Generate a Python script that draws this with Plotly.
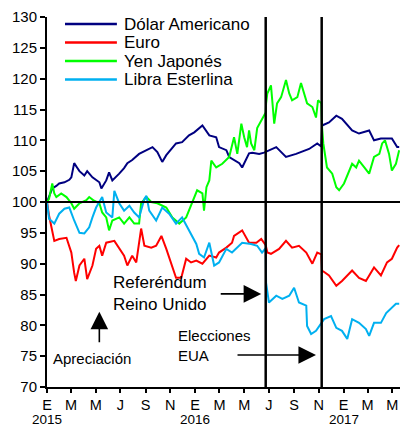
import plotly.graph_objects as go

# ---------------- data ----------------
usd_dates = ["2015-01-01","2015-01-06","2015-01-14","2015-01-24","2015-01-31","2015-02-13","2015-02-25","2015-03-02",
             "2015-03-09","2015-03-16","2015-03-22","2015-04-03","2015-04-10","2015-04-23","2015-05-02","2015-05-10",
             "2015-05-15","2015-05-27","2015-06-03","2015-06-11","2015-06-28","2015-07-10","2015-07-18","2015-07-30",
             "2015-08-16","2015-09-03","2015-09-18","2015-09-30","2015-10-12","2015-10-22","2015-11-15","2015-11-30",
             "2015-12-17","2015-12-30","2016-01-11","2016-01-19","2016-02-05","2016-02-22","2016-02-29","2016-03-18",
             "2016-03-25","2016-04-19","2016-04-26","2016-05-13","2016-05-21","2016-06-07","2016-06-19","2016-07-19",
             "2016-08-12","2016-09-06","2016-10-08","2016-10-28","2016-11-07","2016-11-09","2016-11-26","2016-12-14",
             "2016-12-28","2017-01-22","2017-02-08","2017-03-05","2017-03-17","2017-04-03","2017-04-30","2017-05-13",
             "2017-05-18"]
usd_values = [100.0,100.8,102.2,102.6,103.0,103.2,103.6,104.0,
              106.3,105.6,105.0,104.3,105.0,104.0,103.5,103.2,
              102.2,103.5,104.8,103.5,104.6,105.5,106.3,106.8,
              107.8,108.4,108.9,108.1,106.5,107.6,109.5,109.7,
              110.8,111.3,112.0,112.4,110.8,110.5,108.9,108.4,
              107.3,106.3,105.6,107.9,108.0,107.8,108.0,108.9,
              107.3,107.8,108.6,109.5,109.0,112.4,112.9,114.0,
              113.5,111.6,111.1,111.6,110.0,110.3,110.3,108.9,
              108.9]

eur_dates = ["2015-01-01","2015-01-06","2015-01-19","2015-01-31","2015-02-18","2015-03-02","2015-03-09","2015-03-13",
             "2015-03-22","2015-04-03","2015-04-10","2015-04-23","2015-05-02","2015-05-10","2015-05-17","2015-05-27",
             "2015-06-16","2015-06-28","2015-07-10","2015-07-18","2015-07-30","2015-08-09","2015-08-21","2015-08-29",
             "2015-09-15","2015-09-27","2015-10-10","2015-10-22","2015-11-03","2015-11-15","2015-11-28","2015-12-10",
             "2015-12-22","2016-01-04","2016-01-19","2016-02-05","2016-02-22","2016-02-29","2016-03-18","2016-04-01",
             "2016-04-06","2016-04-26","2016-05-13","2016-05-31","2016-06-12","2016-06-23","2016-06-27","2016-07-06",
             "2016-07-26","2016-08-12","2016-08-27","2016-09-13","2016-10-01","2016-10-16","2016-10-28","2016-11-07",
             "2016-11-09","2016-11-26","2016-12-14","2016-12-28","2017-01-22","2017-02-08","2017-02-25","2017-03-17",
             "2017-04-03","2017-04-18","2017-04-30","2017-05-13","2017-05-18"]
eur_values = [100.0,97.8,93.7,94.0,94.2,91.8,88.5,87.2,
              89.7,90.8,87.5,89.7,92.4,92.9,91.3,93.4,
              93.7,92.4,91.3,89.7,91.3,90.2,95.7,92.9,
              92.6,92.9,94.5,92.4,90.2,87.7,87.7,90.8,
              90.2,90.5,90.0,91.3,91.0,91.8,92.6,93.4,
              94.5,95.4,93.4,93.4,94.0,93.0,91.8,91.6,
              92.4,93.7,92.6,92.9,91.8,90.0,91.8,91.5,
              88.9,88.1,86.4,87.2,88.9,87.7,87.2,89.4,
              88.1,90.2,90.8,92.6,93.0]

jpy_dates = ["2015-01-01","2015-01-06","2015-01-14","2015-01-19","2015-01-24","2015-02-05","2015-02-18","2015-03-02",
             "2015-03-09","2015-03-22","2015-04-08","2015-04-15","2015-04-27","2015-05-10","2015-05-17","2015-05-27",
             "2015-06-03","2015-06-11","2015-06-28","2015-07-10","2015-07-23","2015-08-04","2015-08-16","2015-08-21",
             "2015-09-03","2015-09-15","2015-09-30","2015-10-22","2015-11-06","2015-11-23","2015-12-10","2015-12-25",
             "2016-01-06","2016-01-19","2016-01-23","2016-01-29","2016-02-05","2016-02-10","2016-02-22","2016-03-08",
             "2016-03-25","2016-04-06","2016-04-14","2016-04-24","2016-05-01","2016-05-08","2016-05-13","2016-05-18",
             "2016-05-26","2016-06-02","2016-06-12","2016-06-23","2016-06-24","2016-06-27","2016-07-06","2016-07-14",
             "2016-07-21","2016-07-31","2016-08-12","2016-08-20","2016-08-27","2016-09-09","2016-09-18","2016-09-26",
             "2016-10-03","2016-10-16","2016-10-25","2016-10-30","2016-11-07","2016-11-09","2016-11-12","2016-11-21",
             "2016-12-04","2016-12-14","2016-12-21","2017-01-02","2017-01-15","2017-01-22","2017-02-01","2017-02-08",
             "2017-02-21","2017-03-05","2017-03-17","2017-03-30","2017-04-06","2017-04-13","2017-04-23","2017-04-30",
             "2017-05-10","2017-05-18"]
jpy_values = [100.0,100.5,103.0,101.4,100.8,101.4,100.8,99.8,
              98.9,99.8,100.3,100.8,100.2,99.8,98.3,97.5,
              95.4,97.0,97.5,96.5,97.5,96.5,96.5,99.8,
              100.8,100.0,99.8,99.1,97.5,96.5,97.5,99.8,
              101.9,101.4,98.6,102.4,103.5,106.7,105.6,106.2,
              107.3,110.5,107.8,112.7,110.5,108.9,111.6,109.5,
              108.4,112.0,113.2,114.5,116.0,117.6,118.9,112.7,
              116.0,117.0,119.8,117.6,116.5,117.0,119.3,117.6,
              116.0,115.4,113.7,116.5,116.0,112.0,109.5,105.6,
              104.6,102.4,101.9,103.0,105.1,106.2,105.6,106.7,
              105.6,104.6,107.3,107.8,109.5,110.0,107.8,105.1,
              106.2,108.4]

gbp_dates = ["2015-01-01","2015-01-06","2015-01-19","2015-01-31","2015-02-13","2015-02-25","2015-03-09","2015-03-22",
             "2015-04-03","2015-04-15","2015-04-23","2015-05-02","2015-05-17","2015-05-27","2015-06-11","2015-06-16",
             "2015-06-28","2015-07-10","2015-07-23","2015-08-04","2015-08-16","2015-08-29","2015-09-03","2015-09-10",
             "2015-09-27","2015-10-12","2015-10-29","2015-11-15","2015-11-30","2015-12-17","2016-01-04","2016-01-11",
             "2016-01-23","2016-02-05","2016-02-17","2016-02-29","2016-03-18","2016-04-01","2016-04-26","2016-05-18",
             "2016-06-02","2016-06-14","2016-06-23","2016-06-24","2016-07-01","2016-07-19","2016-08-03","2016-08-20",
             "2016-09-01","2016-09-13","2016-10-01","2016-10-03","2016-10-13","2016-10-25","2016-11-02","2016-11-14",
             "2016-12-01","2016-12-14","2016-12-28","2017-01-10","2017-01-22","2017-02-08","2017-02-25","2017-03-05",
             "2017-03-17","2017-04-03","2017-04-16","2017-04-28","2017-05-10","2017-05-18"]
gbp_values = [100.0,97.3,96.5,98.1,98.9,99.1,97.0,95.0,
              94.9,95.9,97.5,99.1,100.8,98.3,97.5,101.8,
              99.8,98.6,99.4,98.3,97.5,100.5,101.0,98.6,
              97.0,99.1,98.1,96.5,97.5,95.4,93.2,91.6,
              91.0,93.4,89.7,90.2,92.4,91.8,93.4,93.2,
              92.9,91.8,92.5,86.9,83.7,84.8,84.3,84.8,
              86.1,83.7,83.2,79.9,78.6,79.1,79.9,81.0,
              81.5,79.6,79.1,77.8,81.0,80.4,79.4,78.3,
              80.4,80.4,82.0,82.8,83.5,83.5]

series_names = ["Dólar Americano", "Euro", "Yen Japonés", "Libra Esterlina"]
series_colors = ["#000080", "#FF0000", "#00FF00", "#00B0F0"]

tick_dates = ["2015-01-01","2015-03-01","2015-05-01","2015-07-01","2015-09-01","2015-11-01",
              "2016-01-01","2016-03-01","2016-05-01","2016-07-01","2016-09-01","2016-11-01",
              "2017-01-01","2017-03-01","2017-05-01"]
tick_labels = ["E","M","M","J","S","N",
               "E","M","M","J","S","N",
               "E","M","M"]
year_dates = ["2015-01-01", "2016-01-01", "2017-01-01"]
year_labels = ["2015", "2016", "2017"]
y_ticks = [70, 75, 80, 85, 90, 95, 100, 105, 110, 115, 120, 125, 130]

event_dates = ["2016-06-23", "2016-11-08"]
baseline = 100

FONT = "Liberation Sans, Arial, sans-serif"

fig = go.Figure()
for name, xs, ys, col in zip(series_names,
                             [usd_dates, eur_dates, jpy_dates, gbp_dates],
                             [usd_values, eur_values, jpy_values, gbp_values],
                             series_colors):
    fig.add_trace(go.Scatter(x=xs, y=ys, mode="lines", name=name,
                             line=dict(color=col, width=2)))

# horizontal line at 100
fig.add_shape(type="line", xref="paper", x0=0, x1=1, yref="y", y0=baseline, y1=baseline,
              line=dict(color="black", width=2))
# vertical event lines
for d in event_dates:
    fig.add_shape(type="line", xref="x", x0=d, x1=d, yref="y", y0=70, y1=130,
                  line=dict(color="black", width=2.5))

# legend (key lines + labels inside the plot, top-left)
leg_y = [0.981, 0.931, 0.881, 0.831]
for name, col, yy in zip(series_names, series_colors, leg_y):
    fig.add_shape(type="line", xref="paper", yref="paper", x0=0.051, x1=0.198, y0=yy, y1=yy,
                  line=dict(color=col, width=2.5))
    fig.add_annotation(x=0.2125, y=yy, xref="paper", yref="paper", text=name, showarrow=False,
                       xanchor="left", yanchor="middle",
                       font=dict(family=FONT, size=17, color="black"))

# year labels under the January ticks
for d, lab in zip(year_dates, year_labels):
    fig.add_annotation(x=d, y=-41 / 370, xref="x", yref="paper", text=lab, showarrow=False,
                       xanchor="center", yanchor="bottom", borderpad=0,
                       font=dict(family=FONT, size=13.5, color="black"))

# annotations
fig.add_annotation(x="2015-06-08", y=85.1, xref="x", yref="y", text="Referéndum<br>Reino Unido",
                   showarrow=False, xanchor="left", yanchor="middle", align="left",
                   font=dict(family=FONT, size=17, color="black"))
fig.add_annotation(x="2016-06-12", y=85.1, xref="x", yref="y", ax=-42, ay=0, text="",
                   showarrow=True, arrowhead=2, arrowsize=2.2, arrowwidth=1.6, arrowcolor="black")
fig.add_annotation(x="2015-11-15", y=76.8, xref="x", yref="y", text="Elecciones<br>EUA",
                   showarrow=False, xanchor="left", yanchor="middle", align="left",
                   font=dict(family=FONT, size=15, color="black"))
fig.add_annotation(x="2016-10-25", y=75.2, xref="x", yref="y", ax=-80, ay=0, text="",
                   showarrow=True, arrowhead=2, arrowsize=2.2, arrowwidth=1.6, arrowcolor="black")
fig.add_annotation(x="2015-01-11", y=74.55, xref="x", yref="y", text="Apreciación",
                   showarrow=False, xanchor="left", yanchor="middle",
                   font=dict(family=FONT, size=15, color="black"))
fig.add_annotation(x="2015-05-10", y=82.2, xref="x", yref="y", ax=0, ay=32, text="",
                   showarrow=True, arrowhead=2, arrowsize=2.2, arrowwidth=1.6, arrowcolor="black")

fig.update_layout(
    width=400, height=428,
    margin=dict(l=47, r=0, t=17, b=41, autoexpand=False),
    paper_bgcolor="white", plot_bgcolor="white",
    font=dict(family=FONT, size=15, color="black"),
    showlegend=False,
    xaxis=dict(range=["2015-01-01", "2017-05-20"], tickmode="array", tickvals=tick_dates,
               ticktext=tick_labels, tickangle=0, ticks="outside", ticklen=4, tickwidth=1.5,
               tickcolor="black", automargin=False,
               showline=True, linecolor="black", linewidth=2, showgrid=False, zeroline=False,
               tickfont=dict(family=FONT, size=14.5, color="black")),
    yaxis=dict(range=[70, 130], tickmode="array", tickvals=y_ticks, ticks="outside", ticklen=5,
               tickwidth=1.5, tickcolor="black", showline=True, linecolor="black", linewidth=2,
               automargin=False, showgrid=False, zeroline=False,
               tickfont=dict(family=FONT, size=15, color="black")),
)

fig.write_html("out.html", config={"displayModeBar": False},
               post_script="document.body.style.margin='0';")
